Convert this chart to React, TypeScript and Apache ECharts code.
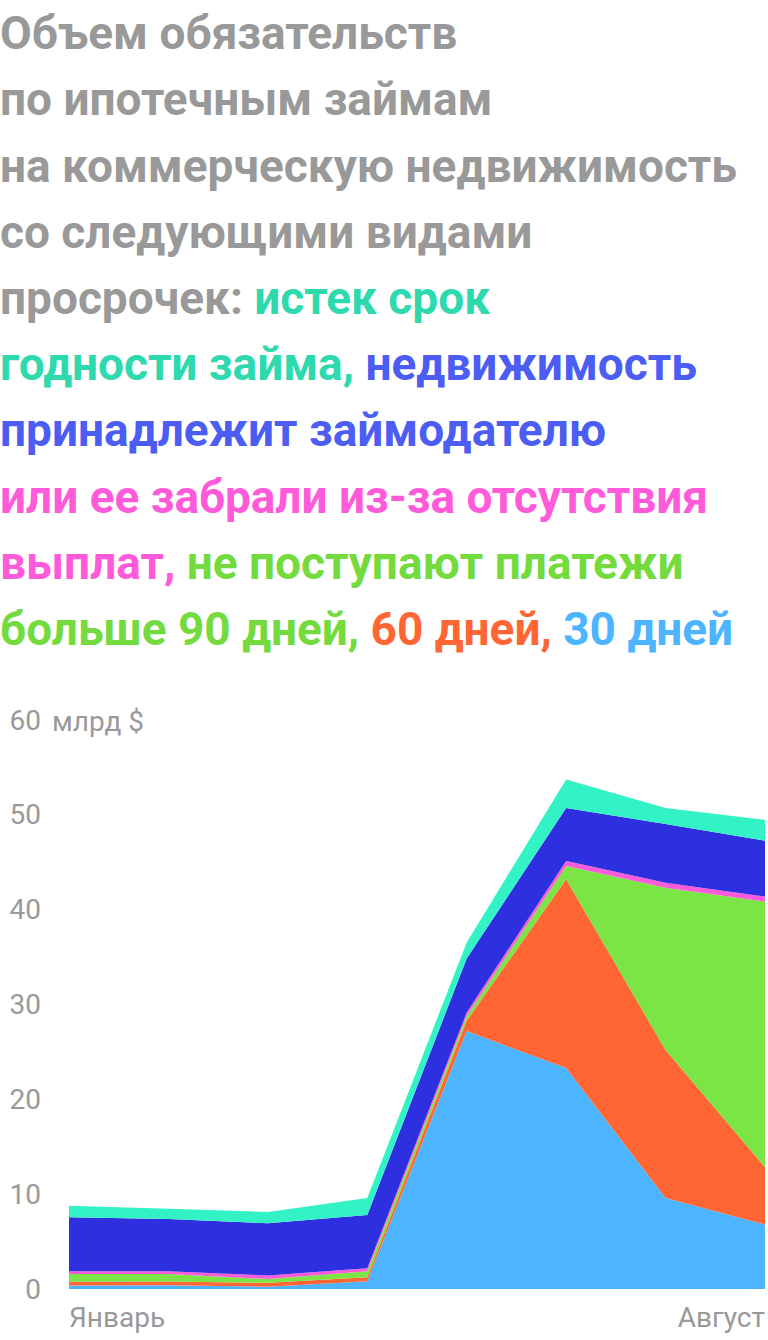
import React, { useEffect, useRef } from "react";
import * as echarts from "echarts";

const months = ["Январь", "Февраль", "Март", "Апрель", "Май", "Июнь", "Июль", "Август"];
const days30 = [0.37, 0.4, 0.25, 0.82, 27.2, 23.3, 9.6, 6.8];
const days60 = [0.4, 0.4, 0.4, 0.42, 1.1, 19.9, 15.6, 6.05];
const days90 = [0.8, 0.77, 0.4, 0.63, 0.5, 1.4, 17.1, 28.0];
const foreclosure = [0.3, 0.3, 0.38, 0.32, 0.35, 0.53, 0.53, 0.53];
const reo = [5.7, 5.5, 5.5, 5.6, 5.7, 5.6, 6.2, 5.9];
const matured = [1.2, 1.1, 1.2, 1.8, 1.7, 3.0, 1.7, 2.2];
const yTicks = [0, 10, 20, 30, 40, 50, 60];
const unitLabel = "млрд $";

const titleLines = [
  "{g|Объем обязательств}",
  "{g|по ипотечным займам}",
  "{g|на коммерческую недвижимость}",
  "{g|со следующими видами}",
  "{g|просрочек: }{t|истек срок}",
  "{t|годности займа, }{n|недвижимость}",
  "{n|принадлежит займодателю}",
  "{p|или ее забрали из-за отсутствия}",
  "{p|выплат, }{gr|не поступают платежи}",
  "{gr|больше 90 дней, }{o|60 дней, }{b|30 дней}",
];

const C = {
  grey: "#999999",
  tealArea: "#33F3C6",
  tealText: "#2ED9AE",
  navyArea: "#2E30E0",
  navyText: "#4B5DF2",
  pink: "#FF5AD9",
  green: "#7AE545",
  greenText: "#74DB3E",
  orange: "#FF6633",
  lightBlue: "#4DB5FF",
};

const FONT = "Roboto, 'Noto Sans', sans-serif";

export default function App() {
  const ref = useRef<HTMLDivElement>(null);
  useEffect(() => {
    if (!ref.current) return;
    const chart = echarts.init(ref.current, undefined, { renderer: "svg" });
    const seg = (color: string) => ({
      color,
      fontSize: 46,
      fontWeight: "bold",
      fontFamily: FONT,
      lineHeight: 66.2,
    });
    const mk = (name: string, data: number[], color: string) => ({
      name,
      type: "line",
      stack: "total",
      data,
      symbol: "none",
      smooth: false,
      lineStyle: { width: 0 },
      areaStyle: { color, opacity: 1 },
      itemStyle: { color },
      emphasis: { disabled: true },
    });
    chart.setOption({
      animation: false,
      title: {
        text: titleLines.join("\n"),
        left: 0,
        top: 0,
        padding: 0,
        textStyle: {
          rich: {
            g: seg(C.grey),
            t: seg(C.tealText),
            n: seg(C.navyText),
            p: seg(C.pink),
            gr: seg(C.greenText),
            o: seg(C.orange),
            b: seg(C.lightBlue),
          },
        },
      },
      grid: { left: 69, right: 0, top: 720, bottom: 51, containLabel: false },
      xAxis: {
        type: "category",
        data: months,
        boundaryGap: false,
        axisLine: { show: false },
        axisTick: { show: false },
        splitLine: { show: false },
        axisLabel: {
          interval: 0,
          color: C.grey,
          fontSize: 28,
          fontFamily: FONT,
          margin: 14,
          alignMinLabel: "left",
          alignMaxLabel: "right",
          formatter: (v: string, i: number) => (i === 0 || i === months.length - 1 ? v : ""),
        },
      },
      yAxis: {
        type: "value",
        min: yTicks[0],
        max: yTicks[yTicks.length - 1],
        interval: 10,
        axisLine: { show: false },
        axisTick: { show: false },
        splitLine: { show: false },
        axisLabel: {
          color: C.grey,
          fontSize: 28,
          fontFamily: FONT,
          margin: 28,
          align: "right",
        },
      },
      graphic: [
        {
          type: "text",
          left: 52,
          top: 707,
          style: {
            text: unitLabel,
            fill: C.grey,
            fontSize: 28,
            fontFamily: FONT,
          },
        },
      ],
      series: [
        mk("30 дней", days30, C.lightBlue),
        mk("60 дней", days60, C.orange),
        mk("больше 90 дней", days90, C.green),
        mk("забрали из-за отсутствия выплат", foreclosure, C.pink),
        mk("принадлежит займодателю", reo, C.navyArea),
        mk("истек срок годности займа", matured, C.tealArea),
      ],
    });
    return () => chart.dispose();
  }, []);
  return (
    <div
      ref={ref}
      style={{ position: "absolute", left: 0, top: 0, width: 768, height: 1340 }}
    />
  );
}
